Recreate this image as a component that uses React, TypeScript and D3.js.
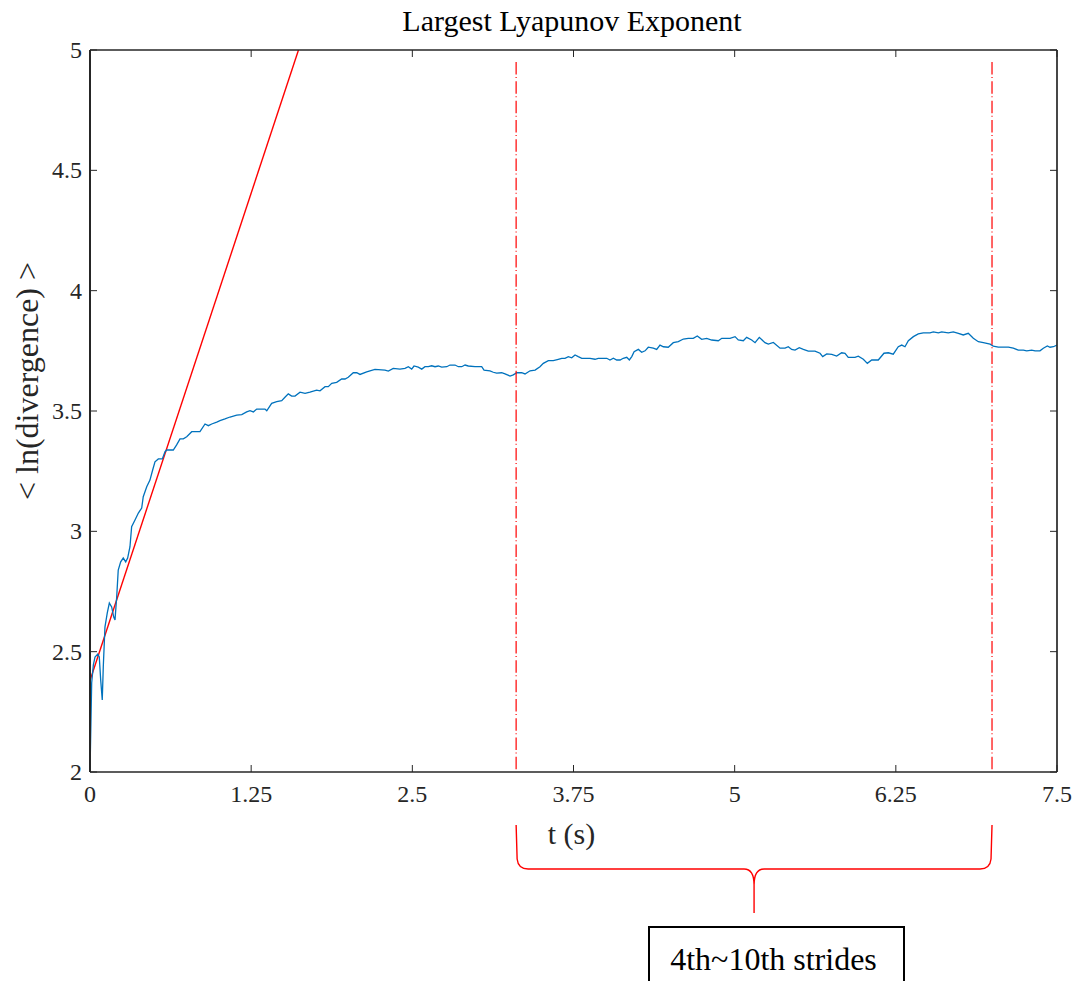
import React from "react";
import * as d3 from "d3";

// Mean log divergence curve (time in seconds, <ln(divergence)>)
const timeS = [
  0, 0.013, 0.026, 0.039, 0.06, 0.072, 0.083, 0.095, 0.103, 0.116, 0.134, 0.15, 0.168, 0.184, 0.194,
  0.207, 0.219, 0.238, 0.258, 0.277, 0.292, 0.31, 0.323, 0.349, 0.375, 0.401, 0.413, 0.44, 0.465,
  0.486, 0.504, 0.53, 0.561, 0.582, 0.595, 0.646, 0.672, 0.698, 0.724, 0.75, 0.789, 0.853, 0.892,
  0.918, 0.944, 0.983, 1.008, 1.047, 1.086, 1.138, 1.177, 1.215, 1.241, 1.267, 1.293, 1.357, 1.371,
  1.409, 1.448, 1.487, 1.512, 1.538, 1.564, 1.59, 1.629, 1.668, 1.706, 1.758, 1.784, 1.823, 1.848,
  1.875, 1.913, 1.952, 1.978, 2.003, 2.042, 2.069, 2.094, 2.146, 2.21, 2.288, 2.314, 2.352, 2.404,
  2.443, 2.469, 2.495, 2.513, 2.546, 2.573, 2.598, 2.624, 2.65, 2.676, 2.701, 2.728, 2.767, 2.792,
  2.831, 2.857, 2.883, 2.909, 2.934, 2.986, 3.038, 3.056, 3.102, 3.128, 3.154, 3.193, 3.219, 3.258,
  3.283, 3.31, 3.348, 3.374, 3.413, 3.452, 3.49, 3.516, 3.555, 3.593, 3.632, 3.659, 3.684, 3.71,
  3.736, 3.762, 3.787, 3.814, 3.878, 3.917, 3.942, 4.008, 4.033, 4.059, 4.085, 4.111, 4.136, 4.163,
  4.183, 4.202, 4.22, 4.253, 4.279, 4.305, 4.33, 4.369, 4.395, 4.421, 4.447, 4.485, 4.524, 4.563,
  4.602, 4.64, 4.679, 4.71, 4.744, 4.783, 4.822, 4.873, 4.9, 4.964, 5.003, 5.028, 5.067, 5.093,
  5.132, 5.158, 5.191, 5.235, 5.261, 5.3, 5.352, 5.391, 5.416, 5.442, 5.468, 5.501, 5.533, 5.571,
  5.623, 5.662, 5.683, 5.714, 5.753, 5.791, 5.83, 5.856, 5.881, 5.933, 5.959, 5.998, 6.029, 6.063,
  6.114, 6.158, 6.192, 6.23, 6.269, 6.296, 6.321, 6.347, 6.386, 6.424, 6.463, 6.515, 6.541, 6.58,
  6.606, 6.657, 6.696, 6.735, 6.773, 6.812, 6.851, 6.89, 6.929, 6.981, 7.006, 7.045, 7.123, 7.161,
  7.2, 7.239, 7.265, 7.304, 7.33, 7.368, 7.394, 7.425, 7.446, 7.472, 7.5,
];

const lnDivergence = [
  2.0, 2.37, 2.445, 2.478, 2.49, 2.478, 2.382, 2.299, 2.436, 2.602, 2.661, 2.702, 2.686, 2.644, 2.632,
  2.727, 2.839, 2.873, 2.889, 2.873, 2.889, 2.936, 3.019, 3.047, 3.076, 3.097, 3.144, 3.185, 3.213,
  3.255, 3.289, 3.301, 3.301, 3.331, 3.338, 3.338, 3.359, 3.384, 3.384, 3.393, 3.414, 3.414, 3.446,
  3.439, 3.446, 3.454, 3.46, 3.467, 3.475, 3.483, 3.485, 3.496, 3.501, 3.496, 3.508, 3.508, 3.501,
  3.532, 3.539, 3.543, 3.557, 3.571, 3.562, 3.562, 3.578, 3.573, 3.578, 3.587, 3.584, 3.601, 3.601,
  3.615, 3.619, 3.633, 3.633, 3.64, 3.659, 3.659, 3.652, 3.663, 3.673, 3.67, 3.666, 3.677, 3.674,
  3.677, 3.684, 3.674, 3.687, 3.682, 3.674, 3.684, 3.684, 3.688, 3.684, 3.687, 3.682, 3.684, 3.691,
  3.691, 3.684, 3.684, 3.691, 3.687, 3.684, 3.684, 3.67, 3.667, 3.661, 3.657, 3.659, 3.654, 3.645,
  3.65, 3.659, 3.659, 3.654, 3.667, 3.67, 3.684, 3.698, 3.709, 3.709, 3.715, 3.719, 3.719, 3.726,
  3.721, 3.733, 3.726, 3.719, 3.719, 3.715, 3.719, 3.719, 3.712, 3.719, 3.712, 3.712, 3.719, 3.723,
  3.712, 3.726, 3.746, 3.756, 3.744, 3.75, 3.765, 3.761, 3.756, 3.774, 3.767, 3.765, 3.784, 3.788,
  3.799, 3.802, 3.802, 3.812, 3.798, 3.802, 3.795, 3.792, 3.802, 3.802, 3.809, 3.795, 3.792, 3.806,
  3.795, 3.784, 3.806, 3.784, 3.778, 3.785, 3.761, 3.761, 3.767, 3.756, 3.753, 3.763, 3.756, 3.749,
  3.749, 3.74, 3.726, 3.737, 3.735, 3.728, 3.742, 3.74, 3.723, 3.723, 3.728, 3.715, 3.698, 3.712,
  3.712, 3.74, 3.742, 3.736, 3.767, 3.774, 3.767, 3.792, 3.809, 3.82, 3.825, 3.825, 3.829, 3.825,
  3.829, 3.825, 3.829, 3.823, 3.816, 3.823, 3.802, 3.788, 3.784, 3.778, 3.77, 3.765, 3.765, 3.761,
  3.753, 3.753, 3.75, 3.753, 3.75, 3.75, 3.761, 3.77, 3.765, 3.767, 3.774,
];

// Linear fit of the initial divergence (start and end points)
const fitTime = [0, 1.617];
const fitValue = [2.38, 5.0];

// Window covering the 4th to 10th strides
const strideWindow = [3.305, 6.996];
const strideWindowTop = 4.95;
const strideLabel = "4th~10th strides";

const xTicks = [0, 1.25, 2.5, 3.75, 5, 6.25, 7.5];
const xTickLabels = ["0", "1.25", "2.5", "3.75", "5", "6.25", "7.5"];
const yTicks = [2, 2.5, 3, 3.5, 4, 4.5, 5];
const yTickLabels = ["2", "2.5", "3", "3.5", "4", "4.5", "5"];

const titleText = "Largest Lyapunov Exponent";
const xLabelText = "t (s)";
const yLabelText = "< ln(divergence) >";

const W = 1077;
const H = 981;
const L = 90;
const R = 1057;
const T = 50;
const B = 772;
const FONT = "'Liberation Serif', 'Times New Roman', serif";
const TICK = 7;

export default function App() {
  const x = d3.scaleLinear().domain([0, 7.5]).range([L, R]);
  const y = d3.scaleLinear().domain([2, 5]).range([B, T]);

  const pts: [number, number][] = timeS.map((t, i) => [t, lnDivergence[i]]);
  const line = d3
    .line<[number, number]>()
    .x((d) => x(d[0]))
    .y((d) => y(d[1]));

  const fitPts: [number, number][] = fitTime.map((t, i) => [t, fitValue[i]]);

  // Curly brace under the stride window
  const bl = x(strideWindow[0]);
  const br = x(strideWindow[1]);
  const bm = (bl + br) / 2;
  const bTop = 825;
  const bMid = 869;
  const bTip = 913;
  const r = 10;
  const bracePath = [
    `M${bl},${bTop}`,
    `L${bl + 1},${bMid - r}`,
    `Q${bl + 2},${bMid} ${bl + 12},${bMid}`,
    `L${bm - r},${bMid}`,
    `Q${bm},${bMid} ${bm},${bMid + 16}`,
    `L${bm},${bTip}`,
    `M${bm},${bMid + 16}`,
    `Q${bm},${bMid} ${bm + r},${bMid}`,
    `L${br - 12},${bMid}`,
    `Q${br - 2},${bMid} ${br - 1},${bMid - r}`,
    `L${br},${bTop}`,
  ].join(" ");

  const boxL = 649;
  const boxR = 904;
  const boxT = 927;

  const textStyle = { fontFamily: FONT };

  return (
    <svg
      width={W}
      height={H}
      style={{ position: "absolute", left: 0, top: 0, display: "block", background: "#fff" }}
    >
      <defs>
        <clipPath id="plot-clip">
          <rect x={L} y={T} width={R - L} height={B - T} />
        </clipPath>
      </defs>
      <rect x={0} y={0} width={W} height={H} fill="#fff" />

      {/* title */}
      <text x={572} y={31} textAnchor="middle" fontSize={30} fill="#000" style={textStyle}>
        {titleText}
      </text>

      {/* ticks on all four sides */}
      <g stroke="#262626" strokeWidth={1}>
        {xTicks.map((t) => (
          <g key={`xt${t}`}>
            <line x1={x(t)} x2={x(t)} y1={B} y2={B - TICK} />
            <line x1={x(t)} x2={x(t)} y1={T} y2={T + TICK} />
          </g>
        ))}
        {yTicks.map((v) => (
          <g key={`yt${v}`}>
            <line x1={L} x2={L + TICK} y1={y(v)} y2={y(v)} />
            <line x1={R} x2={R - TICK} y1={y(v)} y2={y(v)} />
          </g>
        ))}
      </g>

      {/* tick labels */}
      <g fontSize={24} fill="#262626" style={textStyle}>
        {xTicks.map((t, i) => (
          <text key={`xl${t}`} x={x(t)} y={802} textAnchor="middle" style={textStyle}>
            {xTickLabels[i]}
          </text>
        ))}
        {yTicks.map((v, i) => (
          <text key={`yl${v}`} x={82} y={y(v) + 8} textAnchor="end" style={textStyle}>
            {yTickLabels[i]}
          </text>
        ))}
      </g>

      {/* axis labels */}
      <text x={(L + R) / 2 - 2} y={844} textAnchor="middle" fontSize={30} fill="#262626" style={textStyle}>
        {xLabelText}
      </text>
      <text
        transform={`translate(38,381) rotate(-90)`}
        textAnchor="middle"
        fontSize={32}
        fill="#262626"
        style={textStyle}
      >
        {yLabelText}
      </text>

      {/* data */}
      <g clipPath="url(#plot-clip)">
        <path d={line(fitPts) ?? ""} fill="none" stroke="#ff0000" strokeWidth={1.4} />
        <path d={line(pts) ?? ""} fill="none" stroke="#0072BD" strokeWidth={1.3} />
      </g>

      {/* stride window markers */}
      {strideWindow.map((t) => (
        <line
          key={`sw${t}`}
          x1={x(t)}
          x2={x(t)}
          y1={y(strideWindowTop)}
          y2={y(2) - 2}
          stroke="#ff0000"
          strokeWidth={1.2}
          strokeDasharray="12.5,2.5,1,3.3"
        />
      ))}

      {/* axes box */}
      <g fill="none" stroke="#262626">
        <line x1={L} x2={R} y1={T} y2={T} strokeWidth={1.5} />
        <line x1={L} x2={R} y1={B} y2={B} strokeWidth={1.5} />
        <line x1={L} x2={L} y1={T} y2={B} strokeWidth={2} />
        <line x1={R} x2={R} y1={T} y2={B} strokeWidth={1.7} />
      </g>

      {/* brace and annotation box */}
      <path d={bracePath} fill="none" stroke="#ff0000" strokeWidth={1.4} />
      <rect
        x={boxL}
        y={boxT}
        width={boxR - boxL}
        height={80}
        fill="#fff"
        stroke="#000"
        strokeWidth={2}
      />
      <text x={(boxL + boxR) / 2 - 3} y={970} textAnchor="middle" fontSize={32} fill="#000" style={textStyle}>
        {strideLabel}
      </text>
    </svg>
  );
}
